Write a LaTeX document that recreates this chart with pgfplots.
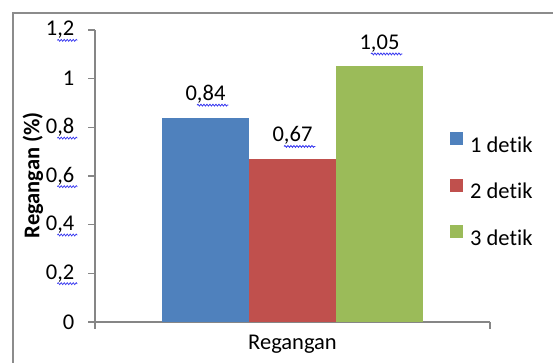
\documentclass[border=0pt]{standalone}
\usepackage{pgfplots}
\pgfplotsset{compat=1.18}
\usepackage{fontspec}
\setmainfont{Carlito}[Ligatures={NoCommon,NoRare},Contextuals=NoAlternate]
\usetikzlibrary{decorations.pathmorphing}

\definecolor{barblue}{HTML}{4F81BD}
\definecolor{barred}{HTML}{C0504D}
\definecolor{bargreen}{HTML}{9BBB59}
\definecolor{axisgray}{HTML}{868686}
\definecolor{framegray}{HTML}{8C8C8C}
\definecolor{spellblue}{HTML}{3A3AF0}

% text with a wavy underline beneath it
\newcommand\wavy[1]{\tikz[baseline=(w.base)]{\node[inner sep=0pt,outer sep=0pt](w){#1};%
  \draw[overlay,spellblue,line width=0.7pt,decorate,decoration={snake,amplitude=1pt,segment length=3pt}]
  ([yshift=-4.5pt]w.base west) -- ([yshift=-4.5pt,xshift=3pt]w.base east);}}

\begin{document}
\fontsize{22.5}{26}\selectfont
\begin{tikzpicture}
% chart frame (only its top and left edges fall inside the page)
\draw[framegray,line width=2pt] (13pt,0pt) -- (13pt,350pt) -- (553pt,350pt);
\begin{axis}[
  at={(95pt,41pt)}, anchor=south west,
  scale only axis, width=395pt, height=292pt,
  xmin=-1, xmax=1, ymin=0, ymax=1.2,
  ybar=0pt, bar width=87pt,
  axis x line=bottom, axis y line=left,
  axis line style={draw=axisgray, line width=1.3pt, -},
  tick align=outside, major tick length=7pt,
  ytick={0,0.2,0.4,0.6,0.8,1,1.2},
  yticklabels={{0},{0\wavy{,2}},{0\wavy{,4}},{0\wavy{,6}},{0\wavy{,8}},{1},{1\wavy{,2}}},
  ytick style={draw=axisgray, line width=1.3pt},
  yticklabel style={anchor=east, xshift=-6pt},
  xtick={-1,1}, xticklabels={},
  xtick style={draw=axisgray, line width=1.3pt},
  extra x ticks={0}, extra x tick labels={Regangan},
  extra x tick style={major tick length=0pt, xticklabel style={yshift=-5pt}},
  ylabel={\bfseries Regangan (\%)},
  ylabel style={at={(axis description cs:-0.157,0.503)}, anchor=center},
  every node near coord/.append style={anchor=base, yshift=17pt, text=black},
  legend style={at={(axis description cs:0.8987,0.4495)}, anchor=west,
    draw=none, fill=none, inner sep=0pt, row sep=22pt,
    nodes={inner sep=0pt, text height=15pt, text depth=4pt}},
  legend cell align=left,
  legend image code/.code={\fill[#1] (0pt,1.7pt) rectangle (13pt,14.7pt); \path (20pt,5pt);},
  clip=false,
]
\addplot[fill=barblue, draw=none, nodes near coords={0\wavy{,84}}] coordinates {(0,0.84)};
\addplot[fill=barred, draw=none, nodes near coords={0\wavy{,67}}] coordinates {(0,0.67)};
\addplot[fill=bargreen, draw=none, nodes near coords={1\wavy{,05}}] coordinates {(0,1.05)};
\legend{1 detik, 2 detik, 3 detik}
\end{axis}
% page area
\pgfresetboundingbox
\useasboundingbox (0pt,0pt) rectangle (553pt,363pt);
\end{tikzpicture}
\end{document}
